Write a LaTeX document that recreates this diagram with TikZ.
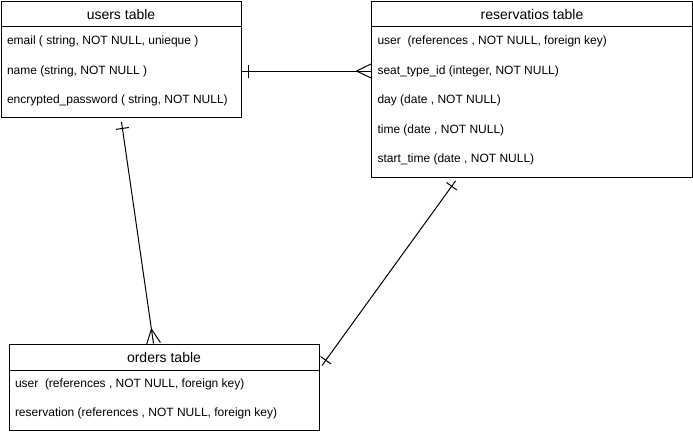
\documentclass[tikz,border=0pt]{standalone}
\usepackage{fontspec}
\setmainfont{Liberation Sans}
\usetikzlibrary{positioning, calc, decorations.markings}

\begin{document}
\begin{tikzpicture}[x=1pt, y=-1pt, line width=1pt,
 table/.style={rectangle,draw,anchor=north west,inner sep=0pt},
 title/.style={font=\fontsize{14}{16}\selectfont},
 field/.style={inner sep=0pt,font=\fontsize{12}{14}\selectfont,anchor=west},
 one start/.style={postaction={decorate,decoration={markings,
   mark=at position 6.5pt with {\draw (0pt,-6.5pt) -- (0pt,6.5pt);}}}},
 one end/.style={postaction={decorate,decoration={markings,
   mark=at position -6.5pt with {\draw (0pt,-6.5pt) -- (0pt,6.5pt);}}}},
 many end/.style={postaction={decorate,decoration={markings,
   mark=at position -14.5pt with {\draw (0pt,0pt) -- (14.5pt,7pt) (0pt,0pt) -- (14.5pt,-7pt);}}}}]

  \useasboundingbox (0,0) rectangle (693,434);

  % users table
  \node[table, minimum width=240pt, minimum height=116pt] (users) at (0.5,0.5) {};
  \draw ($(users.north west)+(0,26)$) -- ($(users.north east)+(0,26)$);
  \node[title] (users title) at ($(users.north)+(0,13.5)$) {users table};
  \node[field] (u1) at ($(users.north west)+(6,41)$) {email ( string, NOT NULL, unieque )};
  \node[below=29.5pt of u1.west, field] (u2) {name (string, NOT NULL )};
  \node[below=29.5pt of u2.west, field] (u3) {encrypted\_password ( string, NOT NULL)};

  % reservatios table
  \node[table, minimum width=321pt, minimum height=176pt] (res) at (371,0.5) {};
  \draw ($(res.north west)+(0,26)$) -- ($(res.north east)+(0,26)$);
  \node[title] (res title) at ($(res.north)+(0,13.5)$) {reservatios table};
  \node[field] (r1) at ($(res.north west)+(6,41)$) {user\ \ (references , NOT NULL, foreign key)};
  \node[below=29.5pt of r1.west, field] (r2) {seat\_type\_id (integer, NOT NULL)};
  \node[below=29.5pt of r2.west, field] (r3) {day (date , NOT NULL)};
  \node[below=29.5pt of r3.west, field] (r4) {time (date , NOT NULL)};
  \node[below=29.5pt of r4.west, field] (r5) {start\_time (date , NOT NULL)};

  % orders table
  \node[table, minimum width=310pt, minimum height=86pt] (orders) at (8.5,343.5) {};
  \draw ($(orders.north west)+(0,27)$) -- ($(orders.north east)+(0,27)$);
  \node[title] (orders title) at ($(orders.north)+(0,14)$) {orders table};
  \node[field] (o1) at ($(orders.north west)+(6,40.5)$) {user\ \ (references , NOT NULL, foreign key)};
  \node[below=29pt of o1.west, field] (o2) {reservation (references , NOT NULL, foreign key)};

  % relations
  \coordinate (users right) at (users.east |- u2.west);
  \coordinate (res left) at (res.west |- u2.west);
  \coordinate (users foot) at ($(users.south)+(0.5,4.5)$);
  \coordinate (orders top) at ($(orders.north)+(-10.5,0)$);
  \coordinate (res foot) at ($(res.south)+(-76.5,3.5)$);
  \coordinate (orders side) at ($(orders.east)+(2.5,-21.5)$);

  \draw[one start, many end] (users right) -- (res left);
  \draw[one start, many end] (users foot) -- (orders top);
  \draw[one start, one end] (res foot) -- (orders side);
\end{tikzpicture}
\end{document}
